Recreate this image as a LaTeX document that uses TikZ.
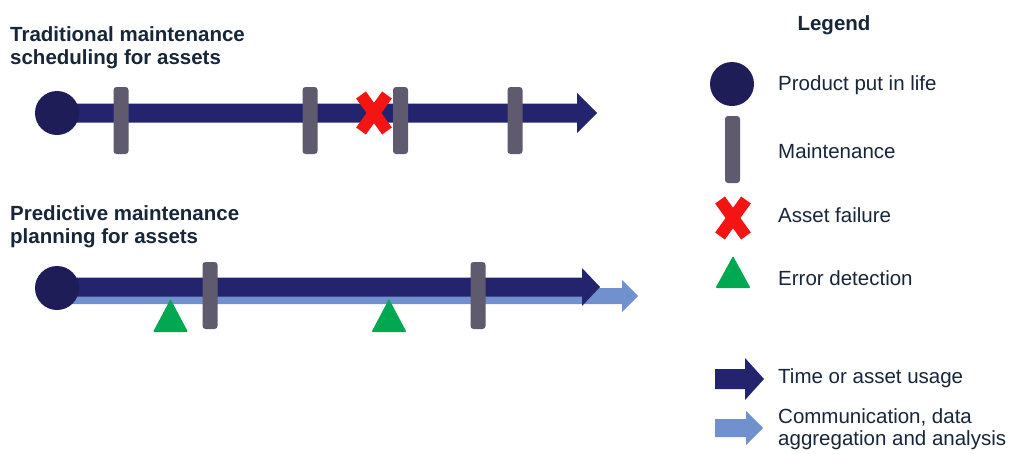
\documentclass[tikz,border=0pt]{standalone}
\usepackage{fontspec}
\setmainfont{Liberation Sans}
\definecolor{navy}{RGB}{30,29,88}
\definecolor{navyshaft}{RGB}{36,35,110}
\definecolor{bargray}{RGB}{96,90,110}
\definecolor{xred}{RGB}{245,20,20}
\definecolor{tgreen}{RGB}{0,168,82}
\definecolor{lightblue}{RGB}{112,145,205}
\definecolor{txt}{RGB}{24,38,58}
\tikzset{
  ttl/.style={anchor=base west, inner sep=0pt, text=txt, font=\fontsize{20.5}{24}\selectfont\bfseries},
  lgd/.style={anchor=west, inner sep=0pt, text=txt, font=\fontsize{20.5}{24}\selectfont},
  dot/.style={fill=navy},
  barshape/.style={fill=bargray, rounded corners=3pt},
  xarm/.style={draw=xred, line width=12pt, line cap=butt},
  tri/.style={fill=tgreen, rounded corners=1pt},
}
% arrow: #1 style, #2 x start, #3 head base x, #4 tip x, #5 centre y, #6 half shaft, #7 half head
\newcommand{\myarrow}[7]{%
  \fill[#1] (#2,#5-#6) -- (#3,#5-#6) -- (#3,#5-#7) -- (#4,#5) -- (#3,#5+#7) -- (#3,#5+#6) -- (#2,#5+#6) -- cycle;}
\newcommand{\mybar}[3]{\fill[barshape] (#1-7.5,#2) rectangle (#1+7.5,#3);}
\newcommand{\myx}[2]{%
  \draw[xarm] (#1-13,#2-18) -- (#1+13,#2+18);
  \draw[xarm] (#1+13,#2-18) -- (#1-13,#2+18);}
\newcommand{\mytri}[3]{\fill[tri] (#1-17.5,#2) -- (#1+17.5,#2) -- (#1,#3) -- cycle;}
\begin{document}
\begin{tikzpicture}[x=1pt,y=-1pt]
\useasboundingbox[fill=white] (0,0) rectangle (1009,453);

% titles
\node[ttl] (t1a) at (10,41) {Traditional maintenance};
\node[ttl] (t1b) at (10,64) {scheduling for assets};
\node[ttl] (t2a) at (10,220) {Predictive maintenance};
\node[ttl] (t2b) at (10,243) {planning for assets};

% top timeline
\myarrow{navyshaft}{57}{577}{597}{113}{9.5}{20}
\fill[dot] (57,113) circle (22);
\mybar{121}{87}{154}
\mybar{310}{87}{154}
\myx{374}{113}
\mybar{400.5}{87}{154}
\mybar{515}{87}{154}

% bottom timeline
\myarrow{lightblue}{70}{622}{638}{296}{8}{16}
\myarrow{navyshaft}{58}{582}{600}{287}{9.5}{19}
\fill[dot] (57,288) circle (22);
\mytri{170.5}{332}{299}
\mybar{210}{262}{329}
\mytri{389}{332}{299}
\mybar{478}{262}{329}

% legend
\node[ttl, anchor=base] (lg) at (834,30) {Legend};
\fill[dot] (732,84) circle (22);
\node[lgd] (l1) at (778,85) {Product put in life};
\mybar{732.5}{116}{183}
\node[lgd] (l2) at (778,151) {Maintenance};
\myx{733}{218}
\node[lgd] (l3) at (778,215) {Asset failure};
\mytri{733}{288}{256}
\node[lgd] (l4) at (778,278) {Error detection};
\myarrow{navyshaft}{715}{745}{764}{379}{10}{21}
\node[lgd] (l5) at (778,378) {Time or asset usage};
\myarrow{lightblue}{715}{746}{763}{428}{9}{17}
\node[lgd] (l6) at (778,417) {Communication, data};
\node[lgd] (l7) at (778,440) {aggregation and analysis};
\end{tikzpicture}
\end{document}
